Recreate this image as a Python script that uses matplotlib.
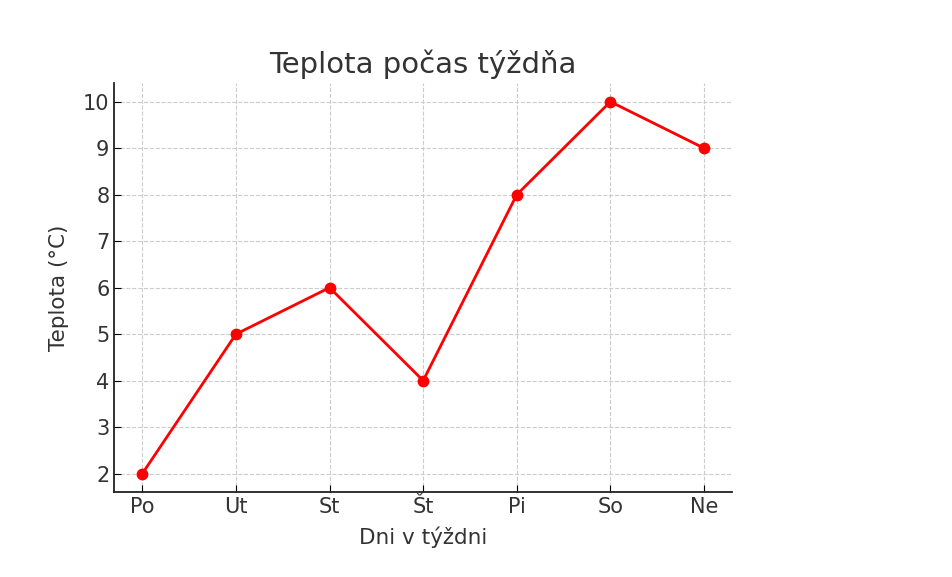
import matplotlib
matplotlib.use("Agg")
import matplotlib.pyplot as plt

days = ["Po", "Ut", "St", "Št", "Pi", "So", "Ne"]
temps = [2, 5, 6, 4, 8, 10, 9]

text_color = "#333333"

fig = plt.figure(figsize=(9.52, 5.77), dpi=100)
ax = fig.add_axes([0.12, 0.147, 0.649, 0.709])

ax.plot(days, temps, color="red", linewidth=2, marker="o", markersize=7.5)

ax.set_title("Teplota počas týždňa", fontsize=21, color=text_color, pad=7)
ax.set_xlabel("Dni v týždni", fontsize=15.5, color=text_color, labelpad=7)
ax.set_ylabel("Teplota (°C)", fontsize=15.5, color=text_color, labelpad=10)
ax.set_yticks(range(2, 11))

ax.grid(True, linestyle="--", color="#cccccc", linewidth=0.8)
ax.tick_params(direction="in", labelsize=15, labelcolor=text_color, length=5)
ax.spines["top"].set_visible(False)
ax.spines["right"].set_visible(False)
for s in ("left", "bottom"):
    ax.spines[s].set_color("#222222")
    ax.spines[s].set_linewidth(1.3)

fig.savefig("out.png", dpi=100)
